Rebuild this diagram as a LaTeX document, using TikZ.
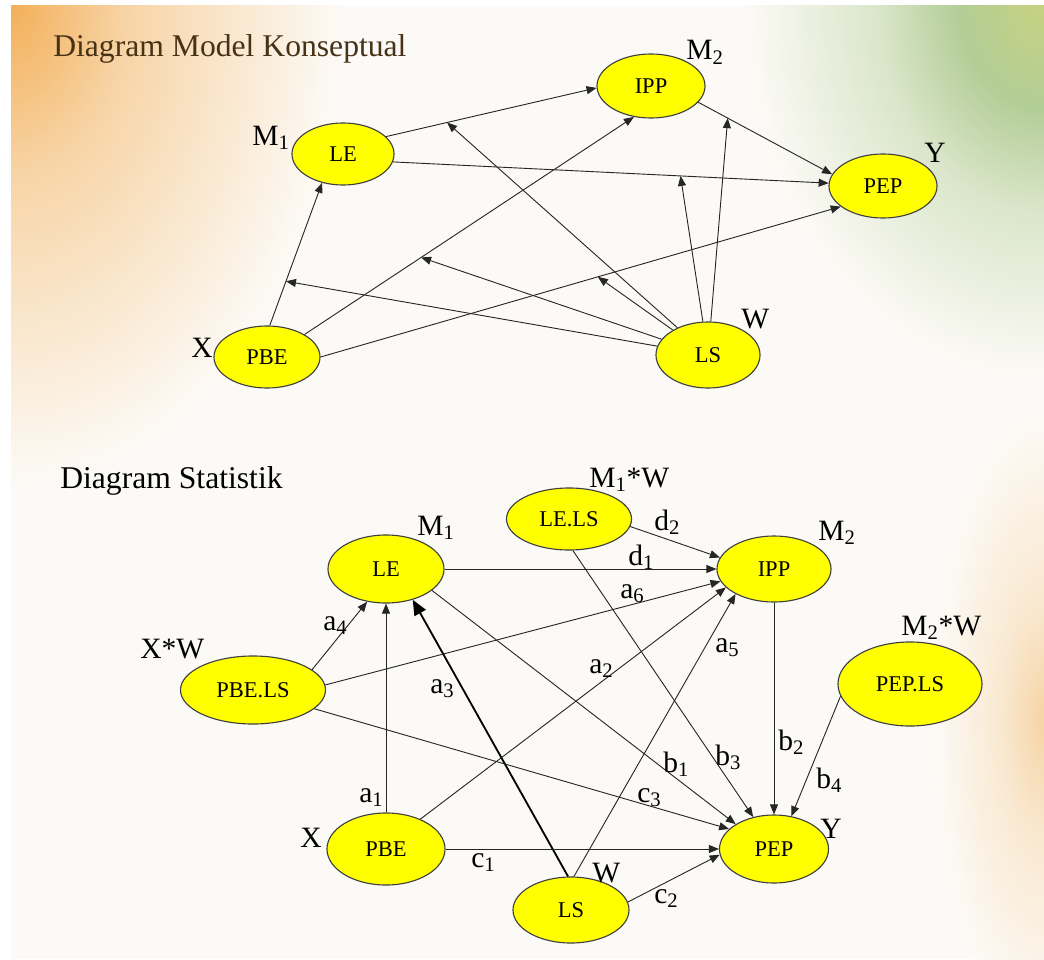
\documentclass[tikz,border=0pt]{standalone}
\usepackage{fontspec}
\setmainfont{Liberation Serif}
\usetikzlibrary{shapes.geometric,arrows.meta}

\definecolor{bgcream}{RGB}{252,250,246}
\definecolor{cornerorange}{RGB}{243,176,90}
\definecolor{cornergreen}{RGB}{178,205,150}
\definecolor{cornerlime}{RGB}{200,210,128}
\definecolor{edgepeach}{RGB}{246,212,165}
\definecolor{titlebrown}{RGB}{72,50,22}
\definecolor{varyellow}{RGB}{255,255,0}

\pgfdeclareradialshading{orangeglow}{\pgfpointorigin}{color(0bp)=(cornerorange); color(9bp)=(cornerorange!50!bgcream); color(25bp)=(bgcream); color(50bp)=(bgcream)}
\pgfdeclareradialshading{greenglow}{\pgfpointorigin}{color(0bp)=(cornerlime); color(7bp)=(cornergreen); color(14bp)=(cornergreen!45!bgcream); color(25bp)=(bgcream); color(50bp)=(bgcream)}
\pgfdeclareradialshading{peachglow}{\pgfpointorigin}{color(0bp)=(edgepeach); color(10bp)=(edgepeach!45!bgcream); color(25bp)=(bgcream); color(50bp)=(bgcream)}

\begin{document}
\begin{tikzpicture}[x=0.025cm,y=-0.025cm]
    \tikzset{
        var/.style 2 args={
            ellipse, draw=black!75, fill=varyellow, line width=0.8pt,
            inner sep=0pt, minimum width=#1, minimum height=#2,
            font=\fontsize{16}{18}\selectfont
        },
        lbl/.style={anchor=base west, inner sep=0pt, font=\fontsize{21}{24}\selectfont},
        heading/.style={anchor=base west, inner sep=0pt, font=\fontsize{22.5}{26}\selectfont},
        effect/.style={-{Triangle[length=0.25cm,width=0.2cm]}, line width=0.65pt, draw=black!85},
        boldeffect/.style={-{Triangle[length=0.38cm,width=0.32cm]}, line width=1.3pt, draw=black}
    }

    % background
    \fill[white] (0,0) rectangle (1044,959);
    \fill[bgcream] (11,6) rectangle (1044,959);
    \begin{scope}
        \clip (11,6) rectangle (520,959);
        \shade[shading=orangeglow] (11,6) ellipse [x radius=8.25cm, y radius=12cm];
    \end{scope}
    \begin{scope}
        \clip (520,6) rectangle (1044,400);
        \shade[shading=greenglow] (1044,0) ellipse [x radius=7.5cm, y radius=9.5cm];
    \end{scope}
    \begin{scope}
        \clip (520,400) rectangle (1044,959);
        \shade[shading=peachglow] (1044,720) ellipse [x radius=2.75cm, y radius=7.75cm];
    \end{scope}
    \useasboundingbox (0,0) rectangle (1044,959);

    % Diagram Model Konseptual
    \node[heading, text=titlebrown] (titlek) at (53,57) {Diagram Model Konseptual};

    \node[var={2.55cm}{1.55cm}] (LEk) at (343,154) {LE};
    \node[var={2.7cm}{1.6cm}] (IPPk) at (651,86) {IPP};
    \node[var={2.7cm}{1.6cm}] (PEPk) at (883,186) {PEP};
    \node[var={2.65cm}{1.55cm}] (PBEk) at (267,357) {PBE};
    \node[var={2.6cm}{1.65cm}] (LSk) at (708,355) {LS};

    \node[lbl] (M1k) at (252,145) {M\textsubscript{1}};
    \node[lbl] (M2k) at (686,60) {M\textsubscript{2}};
    \node[lbl] (Yk) at (924,162) {Y};
    \node[lbl] (Xk) at (191,357) {X};
    \node[lbl] (Wk) at (741,328) {W};

    \draw[effect] (PBEk.85) -- coordinate[pos=0.31] (mPBELE) (LEk.234);
    \draw[effect] (LEk.22) -- coordinate[pos=0.29] (mLEIPP) (IPPk.182);
    \draw[effect] (LEk.351) -- coordinate[pos=0.66] (mLEPEP) (PEPk.177);
    \draw[effect] (PBEk.31) -- coordinate[pos=0.354] (mPBEIPP) (IPPk.241);
    \draw[effect] (PBEk.0) -- coordinate[pos=0.533] (mPBEPEP) (PEPk.206);
    \draw[effect] (IPPk.341) -- coordinate[pos=0.22] (mIPPPEP) (PEPk.167);

    \draw[effect] (LSk) -- (mPBELE);
    \draw[effect] (LSk) -- (mLEIPP);
    \draw[effect] (LSk) -- (mLEPEP);
    \draw[effect] (LSk) -- (mPBEIPP);
    \draw[effect] (LSk) -- (mPBEPEP);
    \draw[effect] (LSk) -- (mIPPPEP);

    % Diagram Statistik
    \node[heading] (titles) at (60,488) {Diagram Statistik};

    \node[var={2.9cm}{1.7cm}] (LEs) at (386,569) {LE};
    \node[var={3.125cm}{1.55cm}] (LELSs) at (569,519) {LE.LS};
    \node[var={2.85cm}{1.65cm}] (IPPs) at (774,569) {IPP};
    \node[var={3.6cm}{2.1cm}] (PEPLSs) at (910,684) {PEP.LS};
    \node[var={3.625cm}{1.7cm}] (PBELSs) at (253,690) {PBE.LS};
    \node[var={2.95cm}{1.8cm}] (PBEs) at (386,849) {PBE};
    \node[var={2.9cm}{1.65cm}] (LSs) at (571,910) {LS};
    \node[var={2.725cm}{1.7cm}] (PEPs) at (774,849) {PEP};

    \node[lbl] (M1s) at (417,535) {M\textsubscript{1}};
    \node[lbl] (M1Ws) at (589,487) {M\textsubscript{1}*W};
    \node[lbl] (M2s) at (818,540) {M\textsubscript{2}};
    \node[lbl] (M2Ws) at (901,635) {M\textsubscript{2}*W};
    \node[lbl] (XWs) at (140,658) {X*W};
    \node[lbl] (Xs) at (300,847) {X};
    \node[lbl] (Ws) at (592,882) {W};
    \node[lbl] (Ys) at (820,838) {Y};

    \draw[effect] (PBEs) -- (LEs);
    \draw[effect] (PBELSs.19) -- (LEs.240);
    \draw[boldeffect] (LSs.95) -- (LEs.311);
    \draw[effect] (PBEs.41) -- (IPPs.201);
    \draw[effect] (LSs.85) -- (IPPs.213);
    \draw[effect] (PBELSs.4) -- (IPPs.193);
    \draw[effect] (LEs) -- (IPPs);
    \draw[effect] (LELSs.353) -- (IPPs.168);
    \draw[effect] (LEs.335) -- (PEPs.147);
    \draw[effect] (LELSs.277) -- (PEPs.123);
    \draw[effect] (IPPs) -- (PEPs);
    \draw[effect] (PEPLSs.190) -- (PEPs.62);
    \draw[effect] (PBELSs.343) -- (PEPs.156);
    \draw[effect] (PBEs) -- (PEPs);
    \draw[effect] (LSs.8) -- (PEPs.186);

    \node[lbl] (la1) at (359,802) {a\textsubscript{1}};
    \node[lbl] (la2) at (589,673) {a\textsubscript{2}};
    \node[lbl] (la3) at (430,693) {a\textsubscript{3}};
    \node[lbl] (la4) at (323,630) {a\textsubscript{4}};
    \node[lbl] (la5) at (715,652) {a\textsubscript{5}};
    \node[lbl] (la6) at (620,598) {a\textsubscript{6}};
    \node[lbl] (ld1) at (628,565) {d\textsubscript{1}};
    \node[lbl] (ld2) at (654,530) {d\textsubscript{2}};
    \node[lbl] (lb1) at (663,772) {b\textsubscript{1}};
    \node[lbl] (lb2) at (778,750) {b\textsubscript{2}};
    \node[lbl] (lb3) at (715,765) {b\textsubscript{3}};
    \node[lbl] (lb4) at (816,788) {b\textsubscript{4}};
    \node[lbl] (lc1) at (471,867) {c\textsubscript{1}};
    \node[lbl] (lc2) at (654,903) {c\textsubscript{2}};
    \node[lbl] (lc3) at (637,802) {c\textsubscript{3}};
\end{tikzpicture}
\end{document}
